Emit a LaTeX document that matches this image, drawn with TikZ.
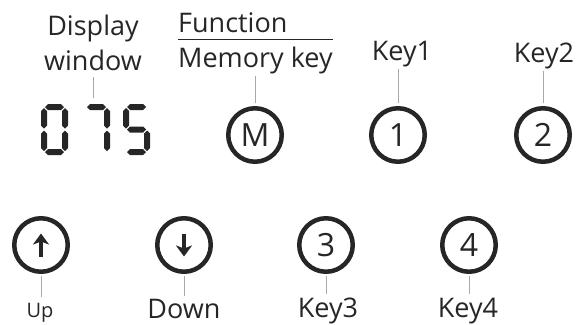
\documentclass[tikz,border=0pt]{standalone}
\usepackage{fontspec}
\setmainfont{Open Sans}
\usetikzlibrary{arrows.meta,positioning}
\definecolor{ink}{HTML}{262626}
\definecolor{leader}{HTML}{A8A8A8}
\newcommand\hseg[2]{\fill[ink] (#1,#2) -- ++(3,-3) -- ++(13,0) -- ++(3,3) -- ++(-3,3) -- ++(-13,0) -- cycle;}
\newcommand\vseg[2]{\fill[ink] (#1,#2) -- ++(3,3) -- ++(0,14.5) -- ++(-3,3) -- ++(-3,-3) -- ++(0,-14.5) -- cycle;}

\begin{document}
\begin{tikzpicture}[x=1pt,y=-1pt,
    lbl/.style={font=\fontsize{27}{33}\selectfont, text=ink, inner sep=0pt, anchor=base},
    keycirc/.style={circle, draw=ink, line width=4.5pt, minimum size=53.5pt, inner sep=0pt,
      text=ink, font=\fontsize{32}{32}\selectfont},
    leadline/.style={draw=leader, line width=1pt, shorten <=2pt, shorten >=3pt},
    updown/.style={ink, line width=4pt, -{Stealth[length=11pt,width=16pt,inset=3pt]}}]
    \useasboundingbox (0,0) rectangle (577,324);

    % display window
    \node[lbl, align=center, anchor=south, font=\fontsize{27}{35}\selectfont] (disp) at (93,71) {Display\\window};
    \node[minimum width=110pt, minimum height=51pt, inner sep=0pt] (lcd) at (95.5,129.5) {};
    \begin{scope}[shift={(41,104)}]
        \foreach \y in {3,48} \hseg{4}{\y};
        \foreach \x/\y in {3/4,24/4,3/26.5,24/26.5} \vseg{\x}{\y};
    \end{scope}
    \begin{scope}[shift={(83,104)}]
        \hseg{4}{3};
        \foreach \y in {4,26.5} \vseg{24}{\y};
    \end{scope}
    \begin{scope}[shift={(123,104)}]
        \foreach \y in {3,25.5,48} \hseg{4}{\y};
        \vseg{3}{4};
        \vseg{24}{26.5};
    \end{scope}

    % top row keys
    \node[lbl, anchor=base west] (func) at (178,32) {Function};
    \node[lbl, anchor=base west] (mem) at (178,67) {Memory key};
    \node[lbl] (key1lbl) at (402,60) {Key1};
    \node[lbl] (key2lbl) at (544,62) {Key2};
    \node[keycirc] (mkey) at (255,135) {M};
    \node[keycirc] (key1) at (398,135) {1};
    \node[keycirc] (key2) at (543,135) {2};
    \draw[ink, line width=1.5pt] ([yshift=7pt]mem.north west) -- ([yshift=7pt]mem.north east);

    % bottom row keys
    \node[keycirc] (up) at (41,245) {};
    \node[keycirc] (down) at (184,245) {};
    \node[keycirc] (key3) at (326,245) {3};
    \node[keycirc] (key4) at (469,245) {4};
    \node[lbl, font=\fontsize{20}{24}\selectfont] (uplbl) at (40,317) {Up};
    \node[lbl] (downlbl) at (184,318.5) {Down};
    \node[lbl] (key3lbl) at (328,317) {Key3};
    \node[lbl] (key4lbl) at (468,317) {Key4};
    \draw[updown] ([yshift=-11.5pt]up.center) -- ([yshift=11.5pt]up.center);
    \draw[updown] ([yshift=11.5pt]down.center) -- ([yshift=-11.5pt]down.center);

    % leader lines
    \draw[leadline, shorten <=6pt, shorten >=6pt] (disp.south) -- (disp.south |- lcd.north);
    \draw[leadline] (mkey.north |- mem.south) -- (mkey.north);
    \draw[leadline] (key1.north |- key1lbl.south) -- (key1.north);
    \draw[leadline] (key2.north |- key2lbl.south) -- (key2.north);
    \draw[leadline, shorten >=6pt] (up.south) -- (up.south |- uplbl.north);
    \draw[leadline] (down.south) -- (down.south |- downlbl.north);
    \draw[leadline] (key3.south) -- (key3.south |- key3lbl.north);
    \draw[leadline] (key4.south) -- (key4.south |- key4lbl.north);
\end{tikzpicture}
\end{document}
